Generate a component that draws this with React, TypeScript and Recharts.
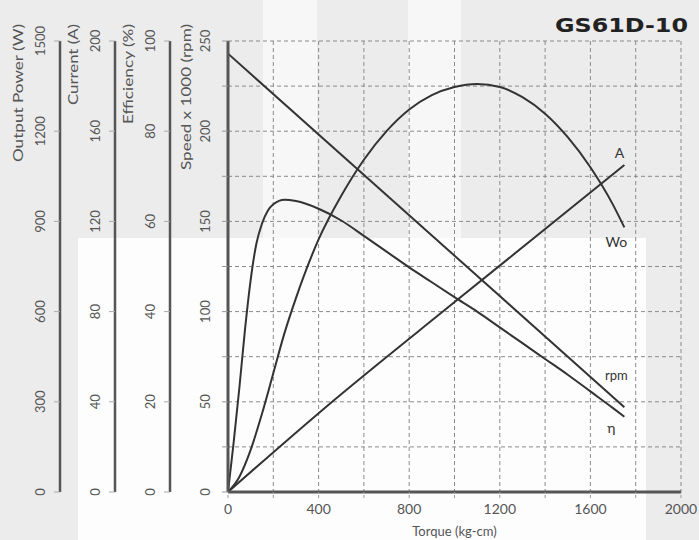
import { LineChart, Line, XAxis, YAxis, CartesianGrid } from 'recharts';

const torqueTicks = [0, 200, 400, 600, 800, 1000, 1200, 1400, 1600, 1800, 2000];
const speedTicks = [0, 25, 50, 75, 100, 125, 150, 175, 200, 225, 250];
const effTicks = [0, 20, 40, 60, 80, 100];
const currentTicks = [0, 40, 80, 120, 160, 200];
const powerTicks = [0, 300, 600, 900, 1200, 1500];

// speed (x1000 rpm)
const rpmTorque = [0, 1750];
const rpmValues = [243, 47];

// current (A)
const ampTorque = [0, 430, 1010, 1750];
const ampValues = [0, 37.5, 85, 145];

// efficiency (%)
const effTorque = [0, 25, 50, 75, 100, 125, 150, 175, 200, 250, 300, 400, 500, 600, 700, 800, 900, 1000, 1100, 1200, 1300, 1400, 1500, 1600, 1700, 1750];
const effValues = [0, 11, 23, 36, 47, 55, 59.5, 62.3, 63.8, 64.8, 64.5, 62.8, 60.2, 56.8, 53.3, 49.8, 46.5, 43.2, 40, 36.5, 33, 29.5, 26, 22.3, 18.6, 16.7];

// output power (W)
const powTorque = [0, 50, 100, 150, 200, 250, 300, 400, 500, 600, 700, 800, 900, 1000, 1100, 1200, 1300, 1400, 1500, 1600, 1700, 1750];
const powValues = [0, 50, 140, 260, 395, 530, 645, 840, 985, 1105, 1200, 1272, 1320, 1347, 1357, 1347, 1313, 1258, 1180, 1080, 955, 880];

const toRows = (ts: number[], vs: number[]) => ts.map((t, i) => ({ torque: t, value: vs[i] }));

const rpmData = toRows(rpmTorque, rpmValues);
const ampData = toRows(ampTorque, ampValues);
const effData = toRows(effTorque, effValues);
const powData = toRows(powTorque, powValues);

const FONT = 'Lato, "Open Sans", sans-serif';
const INK = '#333';

function VTick({ x, y, payload, off, step }: any) {
  if (step && payload.value % step !== 0) return null;
  const cx = x - off;
  return (
    <text x={cx} y={y} transform={`rotate(-90 ${cx} ${y})`} textAnchor="middle" dominantBaseline="central"
      fontSize={13} fontFamily={FONT} fill="#555">
      {payload.value}
    </text>
  );
}

function XTick({ x, y, payload }: any) {
  if (payload.value % 400 !== 0) return null;
  return (
    <text x={x} y={y + 14} textAnchor="middle" fontSize={14} fontFamily={FONT} fill="#555">
      {payload.value}
    </text>
  );
}

function AxisTitle({ viewBox, text, len }: any) {
  const cx = viewBox.x + viewBox.width - 42;
  const y = 24;
  return (
    <text x={cx} y={y} transform={`rotate(-90 ${cx} ${y})`} textAnchor="end" dominantBaseline="central"
      fontSize={13} fontFamily={FONT} fill="#555" textLength={len} lengthAdjust="spacingAndGlyphs">
      {text}
    </text>
  );
}

const endLabel = (text: string, last: number, dx: number, dy: number, size = 13) => (p: any) =>
  p.index === last ? (
    <text key="end" x={p.x + dx} y={p.y + dy} textAnchor="middle" dominantBaseline="central"
      fontSize={size} fontFamily={FONT} fill={INK}>
      {text}
    </text>
  ) : null;

// axis ids sort alphabetically from the plot outwards
export default function App() {
  return (
    <div style={{ position: 'relative', width: 699, height: 540, background: '#ececec', overflow: 'hidden' }}>
      <style>{`body{margin:0}`}</style>
      <div style={{ position: 'absolute', left: 263, top: 0, width: 54, height: 238, background: '#f7f7f7' }} />
      <div style={{ position: 'absolute', left: 408, top: 0, width: 53, height: 238, background: '#f7f7f7' }} />
      <div style={{ position: 'absolute', left: 78, top: 238, width: 568, height: 302, background: '#fdfdfd' }} />
      <div style={{ position: 'absolute', left: 0, top: 0 }}>
        <LineChart width={699} height={540} margin={{ top: 41, right: 18, bottom: 18, left: 7 }}>
          <CartesianGrid yAxisId="a_speed" stroke="#8a8a8a" strokeDasharray="4 3" strokeWidth={1} />
          <XAxis dataKey="torque" type="number" domain={[0, 2000]} ticks={torqueTicks} height={30}
            tick={<XTick />} tickSize={6} tickLine={{ stroke: '#999', strokeDasharray: '3 2' }}
            axisLine={{ stroke: '#555', strokeWidth: 3 }}
            label={{ value: 'Torque (kg-cm)', position: 'insideBottom', offset: -14, fontSize: 13, fontFamily: FONT, fill: '#555' }} />
          <YAxis yAxisId="a_speed" domain={[0, 250]} ticks={speedTicks} width={58} tickSize={6} tickMargin={2}
            tick={<VTick off={15} step={50} />} tickLine={{ stroke: '#999' }} axisLine={{ stroke: '#555', strokeWidth: 3 }}
            label={<AxisTitle text="Speed x 1000 (rpm)" len={146} />} />
          <YAxis yAxisId="b_eff" domain={[0, 100]} ticks={effTicks} width={55} tickSize={6} tickMargin={2}
            tick={<VTick off={12} />} tickLine={{ stroke: '#aaa' }} axisLine={{ stroke: '#555', strokeWidth: 2.5 }}
            label={<AxisTitle text="Efficiency (%)" len={100} />} />
          <YAxis yAxisId="c_cur" domain={[0, 200]} ticks={currentTicks} width={55} tickSize={6} tickMargin={2}
            tick={<VTick off={12} />} tickLine={{ stroke: '#aaa' }} axisLine={{ stroke: '#555', strokeWidth: 2.5 }}
            label={<AxisTitle text="Current (A)" len={81} />} />
          <YAxis yAxisId="d_pow" domain={[0, 1500]} ticks={powerTicks} width={53} tickSize={6} tickMargin={2}
            tick={<VTick off={12} />} tickLine={{ stroke: '#aaa' }} axisLine={{ stroke: '#555', strokeWidth: 2.5 }}
            label={<AxisTitle text="Output Power (W)" len={138} />} />
          <Line data={rpmData} yAxisId="a_speed" dataKey="value" type="linear" stroke={INK} strokeWidth={2}
            dot={false} isAnimationActive={false} label={endLabel('rpm', rpmData.length - 1, -8, -32)} />
          <Line data={ampData} yAxisId="c_cur" dataKey="value" type="monotone" stroke={INK} strokeWidth={2}
            dot={false} isAnimationActive={false} label={endLabel('A', ampData.length - 1, -5, -13, 14)} />
          <Line data={effData} yAxisId="b_eff" dataKey="value" type="monotone" stroke={INK} strokeWidth={2}
            dot={false} isAnimationActive={false} label={endLabel('η', effData.length - 1, -13, 11, 14)} />
          <Line data={powData} yAxisId="d_pow" dataKey="value" type="monotone" stroke={INK} strokeWidth={2}
            dot={false} isAnimationActive={false} label={endLabel('Wo', powData.length - 1, -8, 14, 14)} />
          <text x={688} y={32} textAnchor="end" fontSize={20} fontWeight="bold" fontFamily='"DejaVu Sans", sans-serif'
            fill="#222" textLength={133} lengthAdjust="spacingAndGlyphs">
            GS61D-10
          </text>
        </LineChart>
      </div>
    </div>
  );
}
